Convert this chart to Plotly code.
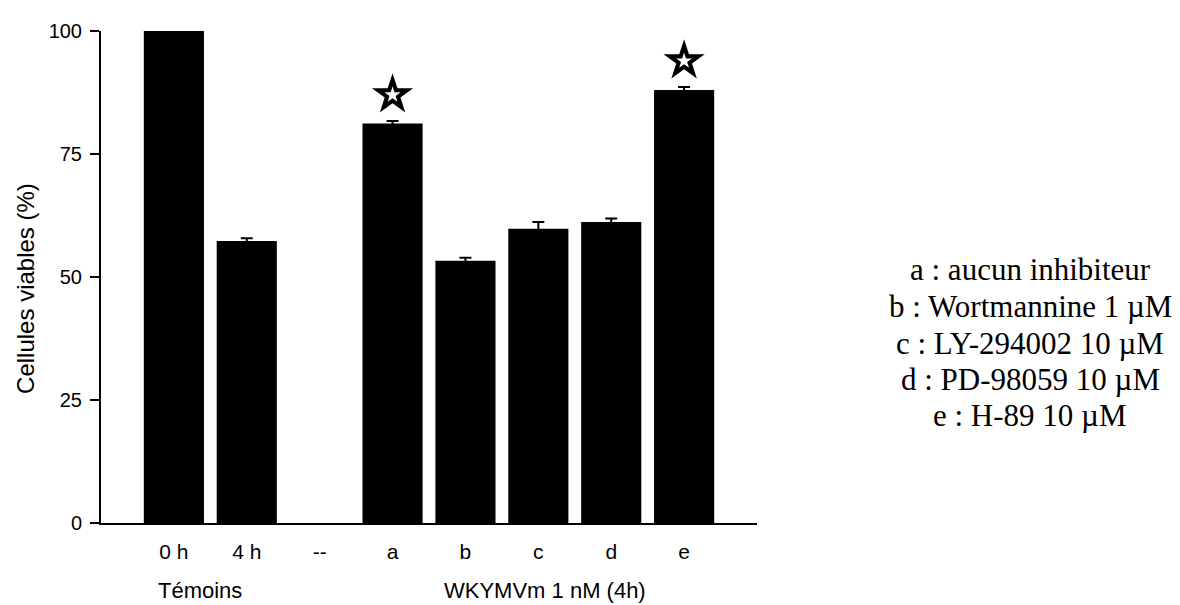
import plotly.graph_objects as go

# ---- data ----
categories = ["0 h", "4 h", "--", "a", "b", "c", "d", "e"]
viability = [100.0, 57.3, None, 81.2, 53.3, 59.8, 61.2, 88.0]
sem = [0.0, 0.6, None, 0.5, 0.6, 1.4, 0.7, 0.6]
significant = [False, False, False, True, False, False, False, True]
y_ticks = [0, 25, 50, 75, 100]
group_labels = ["Témoins", "WKYMVm 1 nM (4h)"]
legend_lines = [
    "a : aucun inhibiteur",
    "b : Wortmannine 1 µM",
    "c : LY-294002 10 µM",
    "d : PD-98059 10 µM",
    "e : H-89 10 µM",
]

SANS = "Liberation Sans, Arial, Helvetica, sans-serif"
SERIF = "Liberation Serif, Times New Roman, serif"

fig = go.Figure()
fig.add_trace(go.Bar(
    x=categories, y=viability,
    marker=dict(color="black", line=dict(width=0)),
    error_y=dict(type="data", array=sem, visible=True, color="black",
                 thickness=2, width=6),
    showlegend=False, hoverinfo="x+y",
))

# significance stars above the bars (black star with a small white star inside)
star_offset = 5.3
sx = [c for c, s in zip(categories, significant) if s]
sy = [v + e + star_offset for v, e, s in zip(viability, sem, significant) if s]
for size, color in [(31, "black"), (12, "white")]:
    fig.add_trace(go.Scatter(
        x=sx, y=sy, mode="markers",
        marker=dict(symbol="star", size=size, color=color, line=dict(width=0)),
        showlegend=False, hoverinfo="skip", cliponaxis=False,
    ))

# page body has an 8px margin: compensate so the plot lands where the reference has it
OFF = 8
W, H = 1180 - OFF, 605 - OFF
L, T = 101 - OFF, 27 - OFF
R = 1180 - 757
B = 605 - 523
fig.update_layout(
    width=W, height=H,
    margin=dict(l=L, r=R, t=T, b=B, pad=0),
    paper_bgcolor="white", plot_bgcolor="white",
    bargap=0.175,
    font=dict(family=SANS, color="black", size=20),
    xaxis=dict(
        type="category", range=[-1.0, 8.0],
        showline=True, linecolor="black", linewidth=2,
        ticks="", showgrid=False, zeroline=False,
        tickfont=dict(family=SANS, size=21, color="black"),
        ticklabelstandoff=9,
    ),
    yaxis=dict(
        range=[0, 100], tickvals=y_ticks,
        showline=True, linecolor="black", linewidth=2,
        ticks="outside", ticklen=9, tickwidth=2, tickcolor="black",
        showgrid=False, zeroline=False,
        tickfont=dict(family=SANS, size=20, color="black"),
        ticklabelstandoff=4,
    ),
)

plot_w = 757 - 101
plot_h = 523 - 27

def px_x(px):
    return (px - 101) / plot_w

def px_y(py):
    return (523 - py) / plot_h

# y axis title
fig.add_annotation(
    text="Cellules viables (%)", textangle=-90,
    xref="paper", yref="paper", x=px_x(26), y=px_y(287),
    xanchor="center", yanchor="middle", showarrow=False,
    font=dict(family=SANS, size=24, color="black"),
)

# group labels under the axis
for label, gx in zip(group_labels, [200, 545]):
    fig.add_annotation(
        text=label, xref="paper", yref="paper",
        x=px_x(gx), y=px_y(591), xanchor="center", yanchor="middle",
        showarrow=False, font=dict(family=SANS, size=22, color="black"),
    )

# side legend text
for line, ly in zip(legend_lines, [267, 305, 342, 378, 415]):
    fig.add_annotation(
        text=line, xref="paper", yref="paper",
        x=px_x(1030), y=px_y(ly), xanchor="center", yanchor="middle",
        showarrow=False, font=dict(family=SERIF, size=31, color="black"),
    )

fig.write_html("out.html")
